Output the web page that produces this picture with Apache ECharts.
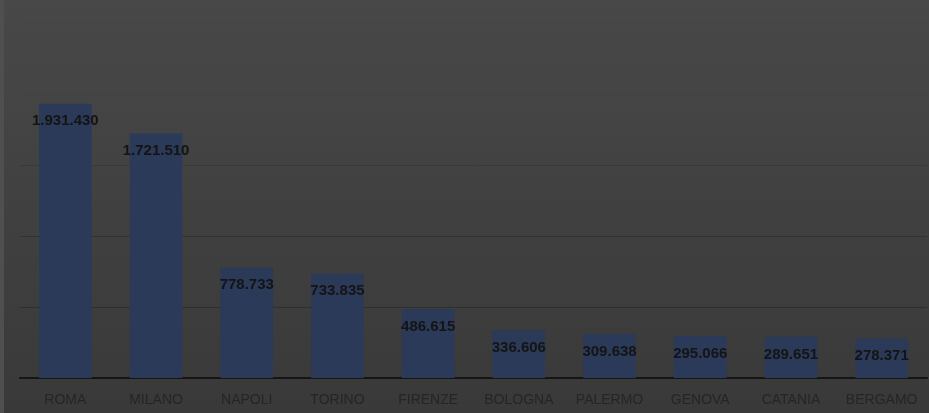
<!DOCTYPE html>
<html>
<head>
<meta charset="utf-8">
<script src="https://cdn.jsdelivr.net/npm/echarts@6/dist/echarts.min.js"></script>
<style>
  html, body { margin: 0; padding: 0; background: #424242; }
  #chart { width: 929px; height: 413px; }
</style>
</head>
<body>
<div id="chart"></div>
<script>
// Residents of the ten largest Italian cities
const cities = ['ROMA', 'MILANO', 'NAPOLI', 'TORINO', 'FIRENZE', 'BOLOGNA', 'PALERMO', 'GENOVA', 'CATANIA', 'BERGAMO'];
const residents = [1931430, 1721510, 778733, 733835, 486615, 336606, 309638, 295066, 289651, 278371];
const yMax = 2500000;
const yStep = 500000;

// Italian thousands separator (dot)
function fmtIt(v) {
  return String(v).replace(/\B(?=(\d{3})+(?!\d))/g, '.');
}

const chart = echarts.init(document.getElementById('chart'), null, { renderer: 'canvas' });
chart.setOption({
  animation: false,
  backgroundColor: {
    type: 'linear', x: 0, y: 0, x2: 0, y2: 1,
    colorStops: [
      { offset: 0, color: '#484848' },
      { offset: 1, color: '#393939' }
    ]
  },
  graphic: [{
    type: 'rect', left: 0, top: 0,
    shape: { width: 4, height: 413 },
    style: { fill: '#4f4f4f' }, silent: true
  }],
  grid: { left: 20, right: 2, top: 23, bottom: 35, containLabel: false },
  xAxis: {
    type: 'category',
    data: cities,
    axisLine: { lineStyle: { color: '#151515', width: 2 } },
    axisTick: { show: false },
    axisLabel: {
      interval: 0,
      color: '#252525',
      fontFamily: 'Liberation Sans, Arial, sans-serif',
      fontSize: 14,
      margin: 15
    }
  },
  yAxis: {
    type: 'value',
    min: 0,
    max: yMax,
    interval: yStep,
    axisLine: { show: false },
    axisTick: { show: false },
    axisLabel: { show: false },
    // gridlines fade out toward the top
    splitLine: { lineStyle: { color: ['#2f2f2f', '#2f2f2f', '#323232', '#393939', '#414141', '#454545'], width: 1 } }
  },
  series: [{
    type: 'bar',
    data: residents,
    barWidth: '58%',
    itemStyle: { color: '#2b3a58' },
    label: {
      show: true,
      position: 'insideTop',
      distance: 10,
      color: '#141414',
      fontFamily: 'Liberation Sans, Arial, sans-serif',
      fontWeight: 'bold',
      fontSize: 15,
      formatter: p => fmtIt(p.value)
    }
  }]
});
</script>
</body>
</html>
